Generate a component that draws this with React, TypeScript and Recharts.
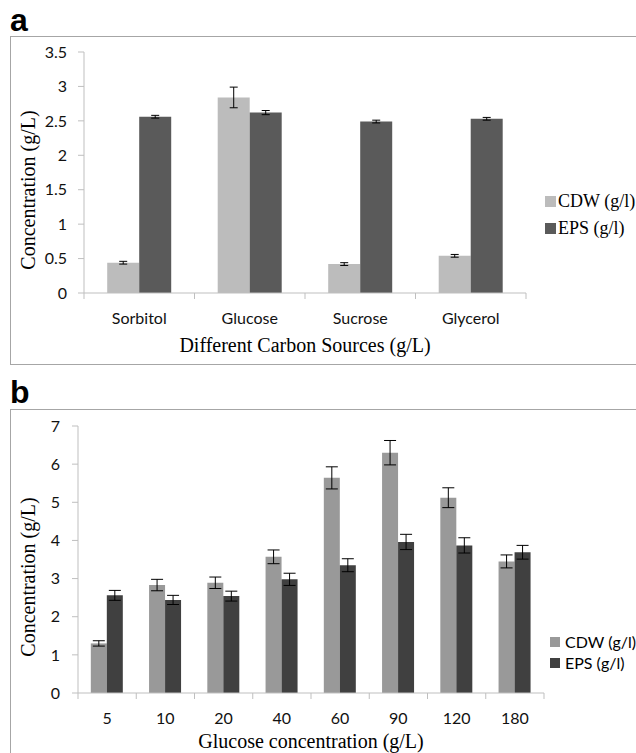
import React from 'react';
import { BarChart, Bar, XAxis, YAxis, ErrorBar, Legend } from 'recharts';

// panel a: carbon sources
const carbonSources = ['Sorbitol', 'Glucose', 'Sucrose', 'Glycerol'];
const carbonCdw = [0.44, 2.84, 0.42, 0.54];
const carbonCdwErr = [0.02, 0.15, 0.02, 0.02];
const carbonEps = [2.56, 2.62, 2.49, 2.53];
const carbonEpsErr = [0.02, 0.03, 0.02, 0.02];
const carbonTicks = [0, 0.5, 1, 1.5, 2, 2.5, 3, 3.5];

// panel b: glucose concentration
const glucoseLevels = ['5', '10', '20', '40', '60', '90', '120', '180'];
const glucoseCdw = [1.3, 2.83, 2.89, 3.57, 5.64, 6.3, 5.12, 3.45];
const glucoseCdwErr = [0.07, 0.15, 0.15, 0.18, 0.29, 0.32, 0.26, 0.17];
const glucoseEps = [2.56, 2.44, 2.54, 2.98, 3.35, 3.96, 3.87, 3.69];
const glucoseEpsErr = [0.13, 0.12, 0.13, 0.16, 0.17, 0.2, 0.2, 0.18];
const glucoseTicks = [0, 1, 2, 3, 4, 5, 6, 7];

const carbonData = carbonSources.map((name, i) => ({
    name,
    cdw: carbonCdw[i],
    cdwErr: carbonCdwErr[i],
    eps: carbonEps[i],
    epsErr: carbonEpsErr[i],
}));

const glucoseData = glucoseLevels.map((name, i) => ({
    name,
    cdw: glucoseCdw[i],
    cdwErr: glucoseCdwErr[i],
    eps: glucoseEps[i],
    epsErr: glucoseEpsErr[i],
}));

const AXIS = '#bfbfbf';
const SERIF = '"Liberation Serif", "Times New Roman", serif';
const SANS = 'Lato, "Open Sans", sans-serif';

// category ticks sit on the band edges, labels in the middle
function makeTick(band: number) {
    return (props: any) => {
        const { x, y, payload, index } = props;
        const half = band / 2;
        return (
            <g>
                {index === 0 && <line x1={x - half} x2={x - half} y1={y} y2={y + 6} stroke={AXIS} />}
                <line x1={x + half} x2={x + half} y1={y} y2={y + 6} stroke={AXIS} />
                <text x={x} y={y + 24} textAnchor="middle" dominantBaseline="central" fontFamily={SANS} fontSize={16} fill="#111">
                    {payload.value}
                </text>
            </g>
        );
    };
}

function makeLegend(font: string, size: number, box: number, rowH: number, gap: number) {
    return (props: any) => (
        <div>
            {props.payload.map((item: any) => (
                <div
                    key={item.value}
                    style={{ display: 'flex', alignItems: 'center', height: rowH, fontFamily: font, fontSize: size, color: '#000', whiteSpace: 'nowrap' }}
                >
                    <span style={{ display: 'inline-block', width: box, height: box, background: item.color, marginRight: gap }} />
                    {item.value}
                </div>
            ))}
        </div>
    );
}

function yTitle(cx: number, cy: number) {
    return (props: any) => (
        <text x={cx} y={cy} transform={`rotate(-90 ${cx} ${cy})`} textAnchor="middle" dominantBaseline="central" fontFamily={SERIF} fontSize={20} fill="#000">
            {props.value}
        </text>
    );
}

export default function App() {
    return (
        <div style={{ position: 'absolute', left: 0, top: 0, width: 636, height: 753, overflow: 'hidden', background: '#fff' }}>
            <div style={{ position: 'absolute', left: 10, top: 4, fontFamily: '"Liberation Sans", Arial, sans-serif', fontWeight: 'bold', fontSize: 32, lineHeight: '32px' }}>a</div>
            <div style={{ position: 'absolute', left: 10, top: 36, width: 640, height: 327, border: '1px solid #a6a6a6' }} />
            <div style={{ position: 'absolute', left: 10, top: 376, fontFamily: '"Liberation Sans", Arial, sans-serif', fontWeight: 'bold', fontSize: 32, lineHeight: '32px' }}>b</div>
            <div style={{ position: 'absolute', left: 10, top: 409, width: 640, height: 400, border: '1px solid #a6a6a6' }} />

            <div style={{ position: 'absolute', left: 0, top: 0 }}>
                <BarChart width={636} height={370} data={carbonData} margin={{ top: 52, right: 110, bottom: 0, left: 0 }} barCategoryGap="21%" barGap={0}>
                    <XAxis
                        dataKey="name"
                        height={77}
                        interval={0}
                        tickSize={0}
                        tickMargin={0}
                        tickLine={false}
                        axisLine={{ stroke: AXIS }}
                        tick={makeTick(442 / 4)}
                        label={{ value: 'Different Carbon Sources (g/L)', position: 'insideBottom', offset: 18, fontFamily: SERIF, fontSize: 20, fill: '#000' }}
                    />
                    <YAxis
                        type="number"
                        domain={[0, 3.5]}
                        ticks={carbonTicks}
                        width={84}
                        tickSize={6}
                        tickMargin={11}
                        axisLine={{ stroke: AXIS }}
                        tickLine={{ stroke: AXIS }}
                        tick={{ fill: '#111', fontSize: 16, fontFamily: SANS }}
                        label={{ value: 'Concentration (g/L)', content: yTitle(28, 190) }}
                    />
                    <Legend
                        layout="vertical"
                        align="center"
                        verticalAlign="middle"
                        content={makeLegend(SERIF, 18, 11, 27, 2)}
                        wrapperStyle={{ left: 545, top: 188, width: 100 }}
                    />
                    <Bar dataKey="cdw" name="CDW (g/l)" fill="#bcbcbc" isAnimationActive={false}>
                        <ErrorBar dataKey="cdwErr" direction="y" width={4} stroke="#000" strokeWidth={1} isAnimationActive={false} />
                    </Bar>
                    <Bar dataKey="eps" name="EPS (g/l)" fill="#5a5a5a" isAnimationActive={false}>
                        <ErrorBar dataKey="epsErr" direction="y" width={4} stroke="#000" strokeWidth={1} isAnimationActive={false} />
                    </Bar>
                </BarChart>
            </div>

            <div style={{ position: 'absolute', left: 0, top: 370 }}>
                <BarChart width={636} height={383} data={glucoseData} margin={{ top: 56, right: 92, bottom: 0, left: 0 }} barCategoryGap="22%" barGap={0}>
                    <XAxis
                        dataKey="name"
                        height={60}
                        interval={0}
                        tickSize={0}
                        tickMargin={0}
                        tickLine={false}
                        axisLine={{ stroke: AXIS }}
                        tick={makeTick(466 / 8)}
                        label={{ value: 'Glucose concentration (g/L)', position: 'insideBottom', offset: 5, fontFamily: SERIF, fontSize: 20, fill: '#000' }}
                    />
                    <YAxis
                        type="number"
                        domain={[0, 7]}
                        ticks={glucoseTicks}
                        width={78}
                        tickSize={6}
                        tickMargin={12}
                        axisLine={{ stroke: AXIS }}
                        tickLine={{ stroke: AXIS }}
                        tick={{ fill: '#111', fontSize: 16, fontFamily: SANS }}
                        label={{ value: 'Concentration (g/L)', content: yTitle(28, 207) }}
                    />
                    <Legend
                        layout="vertical"
                        align="center"
                        verticalAlign="middle"
                        content={makeLegend(SANS, 16, 10, 21, 5)}
                        wrapperStyle={{ left: 550, top: 261, width: 100 }}
                    />
                    <Bar dataKey="cdw" name="CDW (g/l)" fill="#999999" isAnimationActive={false}>
                        <ErrorBar dataKey="cdwErr" direction="y" width={6} stroke="#000" strokeWidth={1} isAnimationActive={false} />
                    </Bar>
                    <Bar dataKey="eps" name="EPS (g/l)" fill="#404040" isAnimationActive={false}>
                        <ErrorBar dataKey="epsErr" direction="y" width={6} stroke="#000" strokeWidth={1} isAnimationActive={false} />
                    </Bar>
                </BarChart>
            </div>
        </div>
    );
}
